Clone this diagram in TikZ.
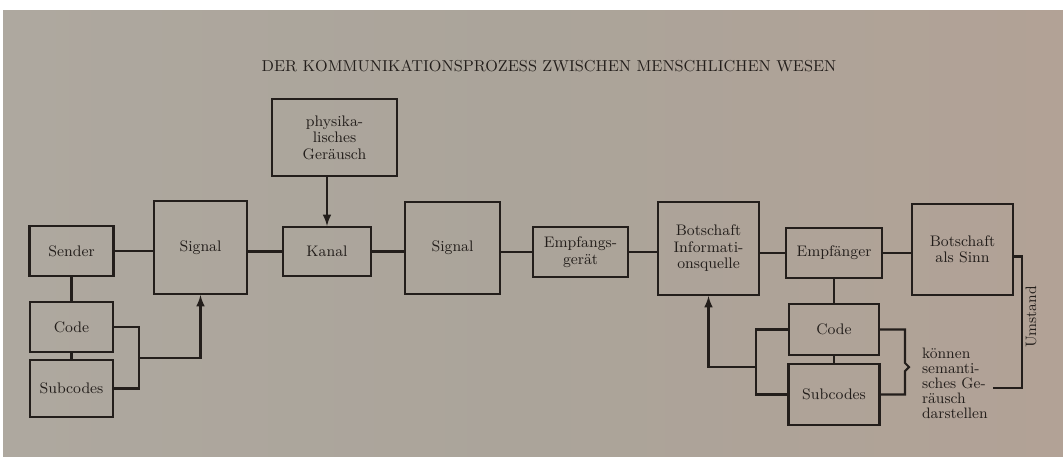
\documentclass[tikz,border=0pt]{standalone}
\usepackage{tikz}
\usetikzlibrary{arrows}
\definecolor{paper}{RGB}{171,164,154}
\definecolor{paperl}{RGB}{174,168,159}
\definecolor{paperr}{RGB}{178,162,150}
\definecolor{ink}{RGB}{35,30,27}

\begin{document}
\begin{tikzpicture}[x=0.02cm,y=-0.02cm,line width=1.2pt,draw=ink,text=ink,
		box/.style={rectangle,draw,line width=1.2pt,align=center,inner sep=1pt,font=\fontsize{8.7}{9.4}\selectfont}]
		\useasboundingbox (0,0) rectangle (1063,457);
		\fill[white] (0,0) rectangle (1063,457);
		\shade[left color=paperl,right color=paperr,middle color=paper] (3,10) rectangle (1063,457);
%		\draw[help lines,step=50] (0,0) grid (1063,457);

		\node[font=\fontsize{9}{11}\selectfont] (title) at (549,66) {DER KOMMUNIKATIONSPROZESS ZWISCHEN MENSCHLICHEN WESEN};

		% sender side
		\node[box,minimum width=1.68cm,minimum height=1cm] (sender) at (71.5,251) {Sender};
		\node[box,minimum width=1.66cm,minimum height=1cm] (code_l) at (71.5,327) {Code};
		\node[box,minimum width=1.66cm,minimum height=1.14cm] (subcodes_l) at (71.5,388.5) {Subcodes};
		\node[box,minimum width=1.86cm,minimum height=1.86cm] (signal_l) at (200.5,247.5) {Signal};

		% channel
		\node[box,minimum width=2.5cm,minimum height=1.54cm] (noise) at (334.5,137.5) {physika-\\lisches\\Geräusch};
		\node[box,minimum width=1.76cm,minimum height=0.98cm] (channel) at (327,251.5) {Kanal};
		\node[box,minimum width=1.9cm,minimum height=1.84cm] (signal_r) at (452.5,248) {Signal};

		% receiver side
		\node[box,minimum width=1.9cm,minimum height=1cm] (receiver) at (580.5,252) {Empfangs-\\gerät};
		\node[box,minimum width=2.02cm,minimum height=1.86cm] (source) at (708.5,248.5) {Botschaft\\Informati-\\onsquelle};
		\node[box,minimum width=1.92cm,minimum height=1cm] (addressee) at (834,253) {Empfänger};
		\node[box,minimum width=1.8cm,minimum height=1.02cm] (code_r) at (834,329.5) {Code};
		\node[box,minimum width=1.82cm,minimum height=1.22cm] (subcodes_r) at (834,394.5) {Subcodes};
		\node[box,minimum width=2.02cm,minimum height=1.82cm] (meaning) at (962.5,249.5) {Botschaft\\als Sinn};

		\node[anchor=north west,align=left,inner sep=0pt,font=\fontsize{8.6}{8.6}\selectfont] (sem_noise) at (921,347) {können\\semanti-\\sches Ge-\\räusch\\darstellen};
		\node[rotate=90,inner sep=0pt,font=\fontsize{8.6}{10}\selectfont] (context) at (1031,317) {Umstand};

		\path (139,358) coordinate (codes_l);
		\path (756,367) coordinate (codes_r);
		\path (993,388) coordinate (context_end);

		% main chain
		\draw (sender.east) -- (sender.east -| signal_l.west);
		\draw (channel.west -| signal_l.east) -- (channel.west);
		\draw (channel.east) -- (channel.east -| signal_r.west);
		\draw (receiver.west -| signal_r.east) -- (receiver.west);
		\draw (receiver.east) -- (receiver.east -| source.west);
		\draw (addressee.west -| source.east) -- (addressee.west);
		\draw (addressee.east) -- (addressee.east -| meaning.west);
		\draw[-latex] (channel.north |- noise.south) -- (channel.north);

		% codes
		\draw (sender) -- (code_l);
		\draw (code_l) -- (subcodes_l);
		\draw (code_l.east) -| (codes_l |- code_l.east) |- (subcodes_l.east);
		\draw[-latex] (codes_l) -| (signal_l.south);

		\draw (addressee) -- (code_r);
		\draw (code_r) -- (subcodes_r);
		\draw (code_r.west) -| (codes_r |- code_r.west) |- (subcodes_r.west);
		\draw[-latex] (codes_r) -| (source.south);
		\draw (code_r.east) -| (905,363) -- ++(4,4) -- ++(-4,4) |- (subcodes_r.east);

		\draw ([yshift=-4pt]meaning.east) -- ++(8,0) |- (context_end);

	\end{tikzpicture}
\end{document}
